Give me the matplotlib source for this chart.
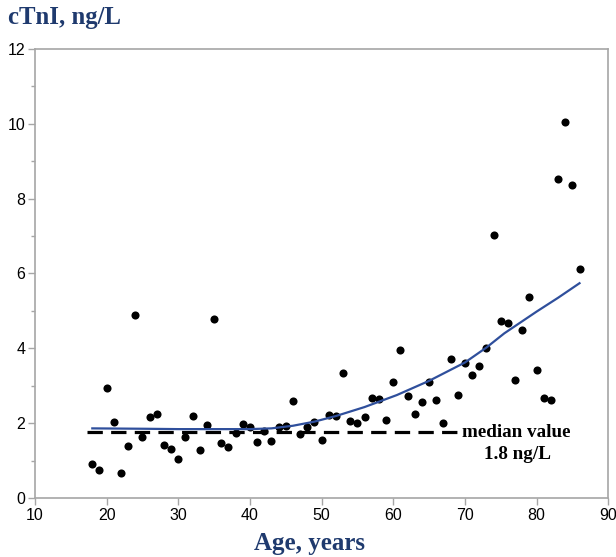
import matplotlib
matplotlib.use("Agg")
from matplotlib import pyplot as plt
from matplotlib.ticker import MultipleLocator

# scatter data: age (years) and cTnI (ng/L)
ages = [18, 19, 20, 21, 22, 23, 24, 25, 26, 27, 28, 29, 30, 31, 32, 33, 34, 35,
        36, 37, 38, 39, 40, 41, 42, 43, 44, 45, 46, 47, 48, 49, 50, 51, 52, 53,
        54, 55, 56, 57, 58, 59, 60, 61, 62, 63, 64, 65, 66, 67, 68, 69, 70, 71,
        72, 73, 74, 75, 76, 77, 78, 79, 80, 81, 82, 83, 84, 85, 86]
ctni = [0.90, 0.75, 2.93, 2.04, 0.68, 1.40, 4.90, 1.63, 2.16, 2.25, 1.42, 1.32,
        1.03, 1.62, 2.18, 1.29, 1.96, 4.79, 1.46, 1.36, 1.73, 1.98, 1.90, 1.49,
        1.78, 1.52, 1.91, 1.93, 2.59, 1.71, 1.89, 2.02, 1.56, 2.22, 2.20, 3.34,
        2.06, 2.00, 2.17, 2.67, 2.64, 2.09, 3.10, 3.95, 2.72, 2.25, 2.57, 3.10,
        2.63, 2.01, 3.72, 2.75, 3.61, 3.29, 3.54, 4.02, 7.02, 4.73, 4.68, 3.16,
        4.49, 5.37, 3.41, 2.68, 2.62, 8.52, 10.05, 8.37, 6.11]

# fitted trend line
fit_age = [18, 25, 30, 35, 40, 43, 46, 49, 52, 56, 60.5, 65, 70, 73, 75.5, 80, 83, 86]
fit_val = [1.86, 1.85, 1.84, 1.84, 1.84, 1.86, 1.93, 2.04, 2.19, 2.43, 2.75, 3.13,
           3.62, 4.02, 4.40, 4.98, 5.35, 5.74]

median_val = 1.75
median_span = [17.2, 69.0]

navy = "#1f3a6e"
grey = "#a6a6a6"

fig = plt.figure(figsize=(6.16, 5.57), dpi=100)
ax = fig.add_axes([0.0568, 0.106, 0.9305, 0.806])

ax.scatter(ages, ctni, s=34, color="black", zorder=3, linewidths=0)
ax.plot(fit_age, fit_val, color="#2f4f9c", lw=1.6, zorder=4)
ax.plot(median_span, [median_val, median_val], color="black", lw=2.3,
        dashes=(4.8, 2.6), zorder=2)

ax.text(69.6, median_val, "median value", fontsize=13.8, fontweight="bold",
        family="Liberation Serif", va="center", ha="left")
ax.text(77.3, 1.15, "1.8 ng/L", fontsize=13.8, fontweight="bold",
        family="Liberation Serif", va="center", ha="center")

ax.set_xlim(10, 90)
ax.set_ylim(0, 12)
ax.xaxis.set_major_locator(MultipleLocator(10))
ax.yaxis.set_major_locator(MultipleLocator(2))
ax.yaxis.set_minor_locator(MultipleLocator(1))

for s in ax.spines.values():
    s.set_color(grey)
    s.set_linewidth(1.2)
ax.tick_params(which="major", direction="out", length=5, width=1, color=grey,
               labelsize=11.5, pad=2)
ax.tick_params(which="minor", direction="out", length=3, width=1, color=grey)
for lab in ax.get_xticklabels() + ax.get_yticklabels():
    lab.set_family("Liberation Sans")

fig.text(0.013, 0.968, "cTnI, ng/L", fontsize=17.8, fontweight="bold",
         family="Liberation Serif", color=navy, va="center", ha="left")
fig.text(0.503, 0.025, "Age, years", fontsize=18, fontweight="bold",
         family="Liberation Serif", color=navy, va="center", ha="center")

fig.savefig("out.png", dpi=100)
